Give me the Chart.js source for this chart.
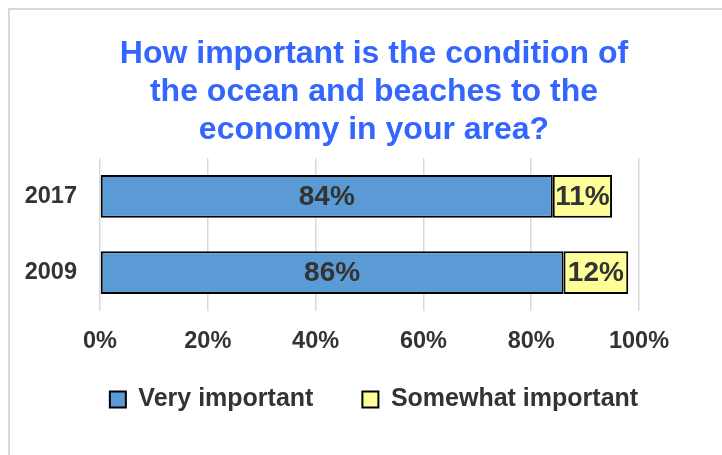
<!DOCTYPE html>
<html>
<head>
<meta charset="utf-8">
<script src="https://cdn.jsdelivr.net/npm/chart.js@4/dist/chart.umd.min.js"></script>
<style>
  html, body { margin: 0; padding: 0; background: #fff; overflow: hidden; width: 722px; height: 455px; }
  #frame { position: absolute; left: 8px; top: 8px; width: 800px; height: 800px; border: 2px solid #d9d9d9; }
  #wrap { position: absolute; left: 0; top: 0; width: 740px; height: 455px; }
</style>
</head>
<body>
<div id="frame"></div>
<div id="wrap"><canvas id="c" width="740" height="455"></canvas></div>
<script>
const titleLines = ['How important is the condition of', 'the ocean and beaches to the', 'economy in your area?'];
const categories = ['2017', '2009'];
const seriesNames = ['Very important', 'Somewhat important'];
const veryImportant = [84, 86];
const somewhatImportant = [11, 12];
const xTicks = [0, 20, 40, 60, 80, 100];

const FONT = "'Liberation Sans', Arial, sans-serif";
const TEXT = '#333333';
const LEGEND_SHIFT = 18;
const X_TICK_PAD = 17;

const placeBoxes = {
  id: 'placeBoxes',
  afterLayout(chart) {
    [chart.titleBlock, chart.legend].forEach(b => {
      if (b) { b.left = 8; b.right = 740; b.width = 732; }
    });
    if (chart.legend) {
      chart.legend.top -= LEGEND_SHIFT;
      chart.legend.bottom -= LEGEND_SHIFT;
    }
  }
};

const valueLabels = {
  id: 'valueLabels',
  afterDatasetsDraw(chart) {
    const ctx = chart.ctx;
    ctx.save();
    ctx.font = "bold 28px " + FONT;
    ctx.fillStyle = TEXT;
    ctx.textAlign = 'center';
    ctx.textBaseline = 'middle';
    chart.data.datasets.forEach((ds, di) => {
      const meta = chart.getDatasetMeta(di);
      meta.data.forEach((bar, i) => {
        const cx = (bar.x + bar.base) / 2;
        ctx.fillText(ds.data[i] + '%', cx, bar.y + 1);
      });
    });
    ctx.restore();
  }
};

new Chart(document.getElementById('c'), {
  type: 'bar',
  data: {
    labels: categories,
    datasets: [
      { label: seriesNames[0], data: veryImportant, backgroundColor: '#5b9bd5', borderColor: '#000', borderWidth: 2, borderSkipped: false },
      { label: seriesNames[1], data: somewhatImportant, backgroundColor: '#ffff99', borderColor: '#000', borderWidth: 2, borderSkipped: false }
    ]
  },
  options: {
    indexAxis: 'y',
    responsive: false,
    animation: false,
    datasets: { bar: { categoryPercentage: 1, barPercentage: 0.56 } },
    layout: { padding: { left: 8, top: 8, right: 101, bottom: 15 } },
    scales: {
      x: {
        stacked: true,
        min: 0, max: 100,
        afterBuildTicks: s => { s.ticks = xTicks.map(v => ({ value: v })); },
        afterFit: s => { s.height = s.height - X_TICK_PAD; },
        grid: { color: '#d9d9d9', lineWidth: 1.5, drawTicks: false },
        border: { display: false },
        ticks: { padding: X_TICK_PAD, color: TEXT, font: { family: FONT, size: 23.5, weight: 'bold' }, callback: v => v + '%', maxRotation: 0, autoSkip: false }
      },
      y: {
        stacked: true,
        afterFit: s => { s.width = 92; },
        grid: { display: false, drawTicks: false },
        border: { display: false },
        ticks: { padding: 23, color: TEXT, font: { family: FONT, size: 23.5, weight: 'bold' } }
      }
    },
    plugins: {
      title: {
        display: true,
        text: titleLines,
        color: '#3366ff',
        font: { family: FONT, size: 32, weight: 'bold', lineHeight: 1.19 },
        padding: { top: 27, bottom: 9 }
      },
      legend: {
        position: 'bottom',
        labels: {
          boxWidth: 16, boxHeight: 16, padding: 49, color: TEXT,
          font: { family: FONT, size: 25, weight: 'bold' }
        }
      },
      tooltip: { enabled: false }
    }
  },
  plugins: [placeBoxes, valueLabels]
});
</script>
</body>
</html>
